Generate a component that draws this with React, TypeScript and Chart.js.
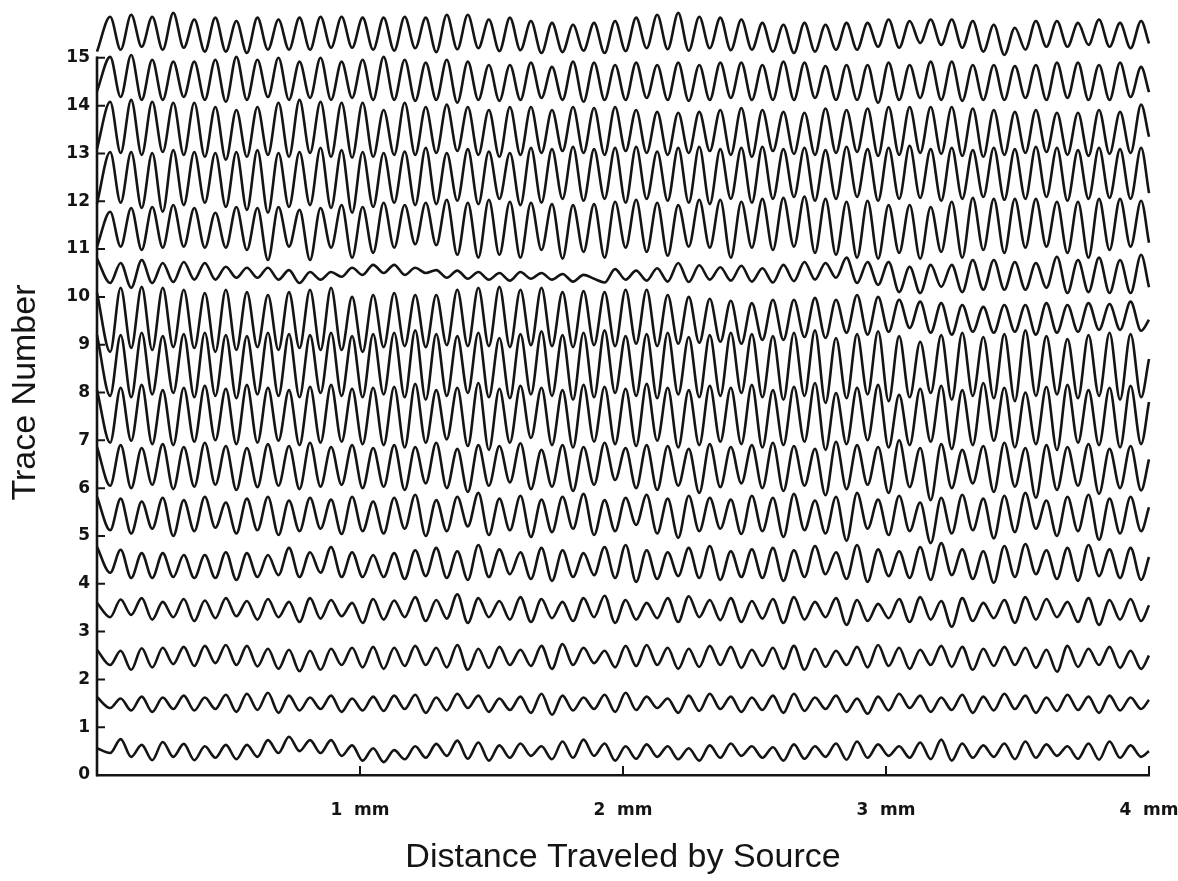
import React, { useEffect, useRef } from 'react';
import { Chart, registerables } from 'chart.js';

Chart.register(...registerables);

// Sample positions along the source travel (mm): edge, then every half fringe, then edge.
const SAMPLE_MM = [
  0,
  0.05, 0.09, 0.13, 0.17, 0.21, 0.25, 0.29, 0.33, 0.37, 0.41,
  0.45, 0.49, 0.53, 0.57, 0.61, 0.65, 0.69, 0.73, 0.77, 0.81,
  0.85, 0.89, 0.93, 0.97, 1.01, 1.05, 1.09, 1.13, 1.17, 1.21,
  1.25, 1.29, 1.33, 1.37, 1.41, 1.45, 1.49, 1.53, 1.57, 1.61,
  1.65, 1.69, 1.73, 1.77, 1.81, 1.85, 1.89, 1.93, 1.97, 2.01,
  2.05, 2.09, 2.13, 2.17, 2.21, 2.25, 2.29, 2.33, 2.37, 2.41,
  2.45, 2.49, 2.53, 2.57, 2.61, 2.65, 2.69, 2.73, 2.77, 2.81,
  2.85, 2.89, 2.93, 2.97, 3.01, 3.05, 3.09, 3.13, 3.17, 3.21,
  3.25, 3.29, 3.33, 3.37, 3.41, 3.45, 3.49, 3.53, 3.57, 3.61,
  3.65, 3.69, 3.73, 3.77, 3.81, 3.85, 3.89, 3.93, 3.97,
  4,
];

const X_TICK_VALUES = [0, 1, 2, 3, 4];
const X_TICK_LABELS = ['', '1  mm', '2  mm', '3  mm', '4  mm'];
const Y_TICK_VALUES = [0, 1, 2, 3, 4, 5, 6, 7, 8, 9, 10, 11, 12, 13, 14, 15];
const Y_TICK_LABELS = ['0', '1', '2', '3', '4', '5', '6', '7', '8', '9', '10', '11', '12', '13', '14', '15'];

// Value at the left edge and right edge of each trace (trace 0 .. 15)
const TRACE_START = [0.56, 1.63, 2.62, 3.6, 4.77, 5.82, 6.86, 8.05, 9.2, 10.08, 10.8, 11.05, 11.95, 13.1, 14.3, 15.13];
const TRACE_END = [0.5, 1.57, 2.5, 3.55, 4.56, 5.6, 6.6, 7.8, 8.7, 9.52, 10.2, 11.13, 12.17, 13.35, 14.28, 15.3];

// Extremes of each trace: HI = crests, LO = valleys.
const T15_HI = [
  15.86, 15.9, 15.86, 15.94, 15.8, 15.84, 15.77, 15.84, 15.8, 15.84,
  15.86, 15.86, 15.84, 15.84, 15.86, 15.84, 15.9, 15.9, 15.8, 15.84,
  15.77, 15.73, 15.69, 15.73, 15.77, 15.84, 15.9, 15.94, 15.86, 15.84,
  15.8, 15.73, 15.69, 15.73, 15.69, 15.73, 15.73, 15.8, 15.77, 15.8,
  15.8, 15.77, 15.69, 15.63, 15.77, 15.77, 15.73, 15.8, 15.73, 15.77,
];
const T15_LO = [
  15.17, 15.23, 15.17, 15.21, 15.13, 15.13, 15.1, 15.17, 15.17, 15.17,
  15.21, 15.21, 15.17, 15.15, 15.2, 15.12, 15.18, 15.2, 15.14, 15.16,
  15.1, 15.12, 15.15, 15.1, 15.14, 15.2, 15.18, 15.15, 15.2, 15.16,
  15.17, 15.13, 15.1, 15.13, 15.17, 15.17, 15.23, 15.21, 15.31, 15.27,
  15.21, 15.13, 15.06, 15.17, 15.23, 15.23, 15.27, 15.23, 15.2,
];
const T14_HI = [
  15.02, 15.06, 14.96, 14.92, 14.92, 14.96, 15.02, 14.96, 15.0, 14.92,
  15.0, 14.92, 14.96, 15.02, 14.96, 14.9, 14.96, 14.92, 14.85, 14.85,
  14.9, 14.81, 14.92, 14.9, 14.85, 14.9, 14.85, 14.9, 14.85, 14.9,
  14.9, 14.85, 14.92, 14.9, 14.83, 14.85, 14.85, 14.9, 14.85, 14.92,
  14.92, 14.85, 14.85, 14.83, 14.85, 14.9, 14.9, 14.85, 14.9, 14.81,
];
const T14_LO = [
  14.18, 14.12, 14.12, 14.18, 14.12, 14.08, 14.12, 14.18, 14.12, 14.16,
  14.12, 14.16, 14.12, 14.12, 14.1, 14.12, 14.06, 14.12, 14.1, 14.12,
  14.16, 14.12, 14.08, 14.12, 14.12, 14.16, 14.12, 14.1, 14.12, 14.16,
  14.12, 14.12, 14.12, 14.16, 14.12, 14.12, 14.06, 14.12, 14.16, 14.12,
  14.1, 14.12, 14.12, 14.16, 14.12, 14.16, 14.12, 14.12, 14.18,
];
const T13_HI = [
  14.08, 14.12, 14.08, 14.06, 14.06, 13.97, 13.91, 13.97, 14.06, 14.12,
  14.08, 14.06, 14.06, 13.91, 14.06, 13.97, 14.02, 13.97, 13.91, 13.97,
  13.97, 13.91, 13.97, 13.95, 13.97, 13.91, 13.87, 13.85, 13.87, 13.91,
  13.95, 13.91, 13.87, 13.85, 13.94, 13.91, 13.94, 13.97, 13.97, 13.97,
  13.97, 13.94, 13.91, 13.87, 13.91, 13.85, 13.85, 13.91, 13.87, 14.02,
];
const T13_LO = [
  13.01, 12.97, 13.03, 12.97, 12.93, 12.87, 12.93, 12.97, 12.93, 13.01,
  12.93, 12.91, 12.93, 12.97, 12.97, 13.01, 13.05, 12.97, 12.93, 12.97,
  13.01, 13.05, 13.01, 12.97, 13.05, 13.01, 12.97, 13.01, 13.05, 12.97,
  12.93, 13.05, 12.99, 12.97, 13.01, 13.03, 12.95, 12.97, 13.01, 12.99,
  12.95, 12.93, 12.97, 13.01, 13.03, 12.97, 12.95, 12.99, 13.01,
];
const T12_HI = [
  13.03, 13.03, 13.01, 13.07, 13.03, 13.01, 13.03, 13.07, 13.01, 13.03,
  13.12, 13.07, 13.03, 13.01, 13.04, 13.12, 13.01, 13.09, 13.04, 13.01,
  13.12, 13.09, 13.14, 13.09, 13.12, 13.14, 13.04, 13.12, 13.14, 13.09,
  13.12, 13.14, 13.09, 13.12, 13.07, 13.14, 13.09, 13.12, 13.16, 13.09,
  13.12, 13.07, 13.12, 13.09, 13.14, 13.12, 13.07, 13.12, 13.09, 13.12,
];
const T12_LO = [
  11.97, 11.86, 11.78, 11.92, 11.97, 11.88, 11.82, 11.76, 11.88, 11.92,
  11.86, 11.76, 11.88, 11.97, 11.92, 11.94, 12.01, 11.94, 12.05, 11.92,
  11.97, 12.05, 12.01, 12.05, 11.97, 12.05, 12.01, 11.97, 11.94, 12.05,
  11.97, 12.05, 12.09, 12.01, 12.05, 12.09, 12.01, 12.05, 12.07, 12.01,
  12.05, 12.09, 12.03, 12.05, 12.09, 12.01, 12.05, 12.07, 12.05,
];
const T11_HI = [
  11.78, 11.86, 11.88, 11.92, 11.86, 11.76, 11.88, 11.86, 11.88, 11.82,
  11.86, 11.92, 11.88, 11.97, 11.92, 11.97, 12.03, 11.97, 12.03, 11.99,
  11.97, 11.94, 11.92, 11.94, 11.99, 12.03, 11.97, 11.92, 12.03, 12.03,
  11.99, 12.05, 12.07, 12.1, 12.05, 11.99, 12.01, 11.92, 11.92, 11.88,
  11.99, 12.07, 12.05, 12.05, 12.05, 11.99, 11.99, 12.05, 12.05, 12.01,
];
const T11_LO = [
  11.05, 10.98, 11.03, 11.05, 11.03, 11.03, 10.98, 10.77, 11.05, 10.77,
  11.03, 10.82, 10.92, 11.03, 11.1, 11.08, 10.88, 10.82, 10.88, 10.82,
  10.98, 10.8, 10.94, 10.82, 11.03, 10.94, 10.86, 11.05, 11.03, 10.82,
  11.03, 10.98, 11.05, 10.92, 10.88, 10.82, 10.8, 10.92, 10.8, 10.94,
  10.82, 10.98, 10.92, 11.03, 11.05, 10.92, 10.82, 10.98, 11.05,
];
// Trace 10 slips by half a fringe in its flat middle part, so it is listed point by point.
const T10_SEQ = [
  10.29, 10.71, 10.19, 10.77, 10.29, 10.71, 10.31, 10.73, 10.36, 10.71,
  10.36, 10.63, 10.4, 10.61, 10.4, 10.61, 10.36, 10.56, 10.29, 10.52,
  10.36, 10.52, 10.42, 10.61, 10.46, 10.67, 10.5, 10.67, 10.46, 10.61,
  10.5, 10.56, 10.4, 10.55, 10.38, 10.52, 10.36, 10.5, 10.34, 10.52,
  10.38, 10.5, 10.36, 10.48, 10.32, 10.46, 10.38, 10.3, 10.58, 10.36,
  10.55, 10.34, 10.6, 10.32, 10.71, 10.31, 10.66, 10.36, 10.62, 10.34,
  10.65, 10.32, 10.6, 10.3, 10.67, 10.33, 10.73, 10.36, 10.71, 10.4,
  10.82, 10.29, 10.73, 10.25, 10.73, 10.1, 10.63, 10.08, 10.67, 10.21,
  10.67, 10.1, 10.77, 10.15, 10.77, 10.15, 10.73, 10.15, 10.71, 10.19,
  10.84, 10.08, 10.77, 10.1, 10.82, 10.08, 10.77, 10.08, 10.88,
];
const T9_LO = [
  8.85, 8.93, 8.89, 8.95, 8.93, 8.85, 8.89, 8.95, 8.89, 8.93,
  8.89, 8.89, 8.85, 8.95, 8.97, 8.95, 8.99, 8.97, 8.97, 8.95,
  8.99, 8.97, 8.95, 8.99, 8.97, 9.02, 8.97, 9.02, 9.04, 9.06,
  9.02, 9.1, 9.1, 9.16, 9.14, 9.25, 9.21, 9.27, 9.35, 9.25,
  9.21, 9.27, 9.25, 9.27, 9.21, 9.25, 9.27, 9.31, 9.31, 9.29,
];
const T9_HI = [
  10.19, 10.21, 10.19, 10.15, 10.08, 10.15, 10.1, 10.04, 10.1, 10.15,
  10.19, 10.0, 10.04, 10.08, 10.04, 10.04, 10.15, 10.19, 10.21, 10.15,
  10.19, 10.1, 10.12, 10.1, 10.15, 10.15, 10.04, 10.0, 9.96, 9.92,
  9.87, 9.94, 9.94, 9.98, 9.94, 10.04, 10.0, 9.94, 9.9, 9.87,
  9.83, 9.79, 9.83, 9.83, 9.87, 9.83, 9.87, 9.85, 9.9,
];
const T8_LO = [
  7.93, 7.9, 7.96, 7.99, 7.9, 7.93, 7.88, 7.96, 7.93, 7.9,
  7.99, 7.93, 7.9, 7.96, 7.9, 7.85, 7.93, 7.99, 7.9, 7.88,
  7.96, 7.93, 7.85, 7.9, 7.99, 7.93, 7.88, 7.96, 7.9, 7.93,
  7.99, 7.9, 7.85, 7.93, 7.78, 7.88, 7.96, 7.82, 7.9, 7.99,
  7.85, 7.93, 7.88, 7.82, 7.93, 7.96, 7.88, 7.93, 7.85, 7.9,
];
const T8_HI = [
  9.2, 9.25, 9.18, 9.22, 9.25, 9.2, 9.18, 9.25, 9.22, 9.2,
  9.25, 9.18, 9.22, 9.25, 9.3, 9.22, 9.18, 9.25, 9.14, 9.22,
  9.28, 9.2, 9.25, 9.3, 9.18, 9.22, 9.25, 9.16, 9.2, 9.25,
  9.22, 9.18, 9.25, 9.3, 9.14, 9.22, 9.28, 9.18, 9.06, 9.2,
  9.25, 9.16, 9.22, 9.3, 9.18, 9.12, 9.2, 9.25, 9.22,
];
const T7_LO = [
  6.95, 6.99, 6.92, 6.9, 6.97, 7.0, 6.92, 6.95, 6.99, 6.9,
  6.95, 6.97, 6.92, 6.9, 6.85, 6.95, 7.02, 6.88, 6.8, 6.95,
  7.05, 6.9, 6.85, 6.97, 6.92, 6.88, 6.99, 6.85, 6.9, 6.97,
  6.92, 6.85, 6.9, 6.97, 6.8, 6.92, 7.0, 6.85, 6.9, 6.97,
  6.82, 6.9, 6.99, 6.85, 6.92, 6.8, 6.95, 6.9, 6.85, 6.92,
];
const T7_HI = [
  8.1, 8.16, 8.05, 8.1, 8.14, 8.08, 8.16, 8.1, 8.05, 8.12,
  8.16, 8.08, 8.1, 8.12, 8.18, 8.05, 8.1, 8.2, 8.08, 8.14,
  8.1, 8.05, 8.16, 8.12, 8.08, 8.18, 8.1, 8.05, 8.14, 8.1,
  8.16, 8.05, 8.12, 8.2, 7.99, 8.1, 8.16, 7.95, 8.08, 8.14,
  8.05, 8.2, 8.1, 8.0, 8.12, 8.16, 8.05, 8.1, 8.14,
];
const T6_LO = [
  6.05, 6.0, 6.07, 5.98, 6.03, 6.07, 5.96, 6.02, 6.05, 5.98,
  6.03, 6.07, 6.0, 6.03, 5.96, 6.1, 6.0, 5.92, 6.05, 6.12,
  5.98, 6.03, 5.94, 6.07, 6.17, 6.0, 5.96, 6.05, 5.9, 6.02,
  6.1, 6.0, 5.94, 6.05, 5.85, 5.98, 6.07, 5.9, 6.02, 5.75,
  6.0, 6.1, 5.92, 6.03, 5.8, 5.96, 6.05, 5.88, 6.0, 5.95,
];
const T6_HI = [
  6.9, 6.84, 6.92, 6.86, 6.95, 6.88, 6.84, 6.92, 6.88, 6.95,
  6.86, 6.9, 6.84, 6.9, 6.86, 6.95, 6.82, 6.9, 6.88, 6.94,
  6.8, 6.9, 6.86, 6.95, 6.84, 6.9, 6.88, 6.82, 6.92, 6.86,
  6.9, 6.95, 6.88, 6.82, 6.97, 6.9, 6.86, 7.0, 6.84, 6.92,
  6.8, 6.88, 6.95, 6.84, 6.9, 6.86, 6.92, 6.82, 6.88,
];
const T5_LO = [
  5.12, 5.05, 5.15, 5.0, 5.1, 5.17, 5.05, 5.12, 5.02, 5.1,
  5.15, 5.04, 5.1, 5.05, 5.15, 5.0, 5.1, 5.2, 5.02, 5.12,
  4.98, 5.08, 5.15, 5.02, 5.1, 5.23, 5.05, 4.96, 5.1, 5.15,
  5.04, 5.1, 4.98, 5.12, 5.05, 4.9, 5.15, 5.02, 5.1, 4.85,
  5.05, 5.12, 4.95, 5.08, 5.15, 5.0, 5.1, 4.92, 5.05, 5.1,
];
const T5_HI = [
  5.78, 5.72, 5.8, 5.75, 5.82, 5.7, 5.78, 5.82, 5.74, 5.8,
  5.76, 5.82, 5.72, 5.8, 5.86, 5.75, 5.82, 5.9, 5.78, 5.84,
  5.76, 5.82, 5.88, 5.75, 5.8, 5.86, 5.78, 5.84, 5.8, 5.76,
  5.84, 5.8, 5.88, 5.74, 5.82, 5.9, 5.76, 5.84, 5.7, 5.8,
  5.86, 5.78, 5.84, 5.9, 5.74, 5.82, 5.86, 5.78, 5.82,
];
const T4_LO = [
  4.23, 4.12, 4.12, 4.14, 4.12, 4.12, 4.08, 4.14, 4.18, 4.14,
  4.23, 4.14, 4.14, 4.14, 4.1, 4.16, 4.12, 4.08, 4.14, 4.2,
  4.1, 4.06, 4.14, 4.18, 4.12, 4.04, 4.1, 4.16, 4.12, 4.08,
  4.14, 4.12, 4.06, 4.14, 4.2, 4.1, 4.04, 4.16, 4.12, 4.08,
  4.18, 4.1, 4.02, 4.14, 4.2, 4.1, 4.06, 4.16, 4.12, 4.08,
];
const T4_HI = [
  4.71, 4.64, 4.64, 4.6, 4.6, 4.66, 4.64, 4.6, 4.75, 4.66,
  4.77, 4.66, 4.6, 4.64, 4.7, 4.75, 4.68, 4.81, 4.72, 4.66,
  4.75, 4.7, 4.64, 4.77, 4.81, 4.7, 4.66, 4.75, 4.79, 4.68,
  4.72, 4.75, 4.7, 4.79, 4.66, 4.81, 4.72, 4.68, 4.77, 4.85,
  4.72, 4.68, 4.79, 4.83, 4.7, 4.75, 4.81, 4.72, 4.75,
];
const T3_LO = [
  3.3, 3.35, 3.25, 3.3, 3.22, 3.28, 3.32, 3.25, 3.3, 3.2,
  3.27, 3.32, 3.18, 3.25, 3.3, 3.22, 3.27, 3.18, 3.3, 3.25,
  3.2, 3.28, 3.22, 3.3, 3.18, 3.25, 3.28, 3.2, 3.3, 3.24,
  3.2, 3.27, 3.18, 3.25, 3.3, 3.14, 3.22, 3.28, 3.2, 3.25,
  3.1, 3.22, 3.28, 3.18, 3.25, 3.3, 3.2, 3.14, 3.25, 3.22,
];
const T3_HI = [
  3.67, 3.7, 3.62, 3.68, 3.65, 3.7, 3.64, 3.68, 3.62, 3.7,
  3.66, 3.6, 3.68, 3.65, 3.72, 3.66, 3.78, 3.7, 3.64, 3.72,
  3.68, 3.62, 3.7, 3.75, 3.66, 3.6, 3.7, 3.74, 3.66, 3.7,
  3.64, 3.68, 3.72, 3.62, 3.7, 3.66, 3.58, 3.68, 3.72, 3.64,
  3.7, 3.6, 3.66, 3.72, 3.68, 3.62, 3.7, 3.66, 3.68,
];
const T2_LO = [
  2.3, 2.2, 2.25, 2.32, 2.28, 2.34, 2.3, 2.27, 2.22, 2.17,
  2.2, 2.3, 2.25, 2.22, 2.28, 2.3, 2.25, 2.2, 2.24, 2.3,
  2.28, 2.22, 2.3, 2.34, 2.25, 2.28, 2.3, 2.22, 2.26, 2.3,
  2.24, 2.28, 2.22, 2.2, 2.26, 2.3, 2.25, 2.28, 2.22, 2.3,
  2.26, 2.2, 2.28, 2.3, 2.24, 2.16, 2.26, 2.3, 2.24, 2.22,
];
const T2_HI = [
  2.6, 2.65, 2.66, 2.68, 2.7, 2.72, 2.7, 2.64, 2.62, 2.6,
  2.64, 2.66, 2.68, 2.66, 2.7, 2.66, 2.72, 2.64, 2.68, 2.62,
  2.7, 2.74, 2.66, 2.6, 2.7, 2.72, 2.66, 2.64, 2.7, 2.68,
  2.62, 2.66, 2.7, 2.64, 2.6, 2.68, 2.72, 2.66, 2.62, 2.7,
  2.68, 2.64, 2.68, 2.66, 2.62, 2.7, 2.64, 2.68, 2.6,
];
const T1_LO = [
  1.4, 1.35, 1.32, 1.38, 1.35, 1.38, 1.32, 1.36, 1.3, 1.35,
  1.38, 1.32, 1.35, 1.34, 1.38, 1.3, 1.35, 1.4, 1.32, 1.36,
  1.3, 1.26, 1.35, 1.38, 1.32, 1.36, 1.4, 1.3, 1.34, 1.38,
  1.32, 1.36, 1.3, 1.34, 1.38, 1.32, 1.28, 1.35, 1.4, 1.32,
  1.36, 1.3, 1.35, 1.38, 1.3, 1.34, 1.36, 1.3, 1.35, 1.38,
];
const T1_HI = [
  1.6, 1.64, 1.62, 1.66, 1.62, 1.68, 1.7, 1.72, 1.66, 1.62,
  1.66, 1.6, 1.64, 1.66, 1.68, 1.62, 1.7, 1.66, 1.6, 1.64,
  1.7, 1.66, 1.62, 1.68, 1.72, 1.64, 1.6, 1.66, 1.7, 1.64,
  1.62, 1.66, 1.7, 1.62, 1.66, 1.6, 1.64, 1.7, 1.66, 1.62,
  1.68, 1.64, 1.7, 1.66, 1.62, 1.68, 1.64, 1.66, 1.62,
];
const T0_LO = [
  0.46, 0.38, 0.31, 0.38, 0.31, 0.36, 0.33, 0.38, 0.46, 0.5,
  0.46, 0.4, 0.3, 0.27, 0.33, 0.36, 0.4, 0.34, 0.3, 0.36,
  0.4, 0.33, 0.36, 0.4, 0.3, 0.34, 0.38, 0.33, 0.3, 0.36,
  0.4, 0.36, 0.3, 0.34, 0.38, 0.32, 0.36, 0.4, 0.36, 0.33,
  0.3, 0.36, 0.38, 0.33, 0.36, 0.4, 0.34, 0.32, 0.36, 0.38,
];
const T0_HI = [
  0.75, 0.63, 0.69, 0.65, 0.6, 0.63, 0.63, 0.73, 0.8, 0.73,
  0.73, 0.62, 0.56, 0.52, 0.6, 0.65, 0.72, 0.68, 0.62, 0.66,
  0.6, 0.7, 0.74, 0.66, 0.6, 0.64, 0.6, 0.56, 0.62, 0.66,
  0.6, 0.58, 0.64, 0.6, 0.66, 0.7, 0.64, 0.6, 0.68, 0.74,
  0.66, 0.62, 0.66, 0.7, 0.64, 0.6, 0.66, 0.7, 0.62,
];

function interleave(first: number[], second: number[]): number[] {
  const out: number[] = [];
  const n = Math.max(first.length, second.length);
  for (let i = 0; i < n; i++) {
    if (i < first.length) out.push(first[i]);
    if (i < second.length) out.push(second[i]);
  }
  return out;
}

// Inner sequences (between the two edge values), trace 0 .. 15
const TRACE_INNER: number[][] = [
  interleave(T0_LO, T0_HI),
  interleave(T1_LO, T1_HI),
  interleave(T2_LO, T2_HI),
  interleave(T3_LO, T3_HI),
  interleave(T4_LO, T4_HI),
  interleave(T5_LO, T5_HI),
  interleave(T6_LO, T6_HI),
  interleave(T7_LO, T7_HI),
  interleave(T8_LO, T8_HI),
  interleave(T9_LO, T9_HI),
  T10_SEQ,
  interleave(T11_HI, T11_LO),
  interleave(T12_HI, T12_LO),
  interleave(T13_HI, T13_LO),
  interleave(T14_HI, T14_LO),
  interleave(T15_HI, T15_LO),
];

const INK = '#141414';

const innerTicksPlugin = {
  id: 'innerTicks',
  afterDraw(chart: any) {
    const { ctx, chartArea, scales } = chart;
    const x = scales.x;
    const y = scales.y;
    ctx.save();
    ctx.strokeStyle = INK;
    ctx.lineCap = 'square';
    ctx.lineWidth = 2.6;
    ctx.beginPath();
    ctx.moveTo(chartArea.left, y.getPixelForValue(Y_TICK_VALUES[0]));
    ctx.lineTo(chartArea.left, y.getPixelForValue(Y_TICK_VALUES[Y_TICK_VALUES.length - 1]));
    ctx.stroke();
    ctx.lineWidth = 2;
    ctx.beginPath();
    Y_TICK_VALUES.forEach((v) => {
      if (v === 0) return;
      const py = y.getPixelForValue(v);
      ctx.moveTo(chartArea.left, py);
      ctx.lineTo(chartArea.left + 7, py);
    });
    X_TICK_VALUES.forEach((v) => {
      if (v === 0) return;
      const px = x.getPixelForValue(v);
      ctx.moveTo(px, chartArea.bottom);
      ctx.lineTo(px, chartArea.bottom - 8);
    });
    ctx.stroke();
    ctx.restore();
  },
};

export default function App() {
  const canvasRef = useRef<HTMLCanvasElement | null>(null);

  useEffect(() => {
    document.body.style.margin = '0';
    document.body.style.background = '#ffffff';
    const canvas = canvasRef.current;
    if (!canvas) return;

    const datasets = TRACE_INNER.map((inner, i) => {
      const seq = [TRACE_START[i], ...inner, TRACE_END[i]];
      return {
        label: `Trace ${i}`,
        data: SAMPLE_MM.map((mm, k) => ({ x: mm, y: seq[k] })),
        borderColor: INK,
        borderWidth: 2.6,
        pointRadius: 0,
        fill: false,
        cubicInterpolationMode: 'monotone' as const,
        clip: false as const,
      };
    });

    const tickFont = { family: 'DejaVu Sans', size: 17, weight: 'bold' as const };
    const titleFont = { family: 'Liberation Sans', size: 34, weight: 'normal' as const };

    const chart = new Chart(canvas, {
      type: 'line',
      data: { datasets },
      plugins: [innerTicksPlugin],
      options: {
        animation: false,
        responsive: false,
        devicePixelRatio: 1,
        layout: { padding: { top: 10, right: 29, left: 0, bottom: 0 } },
        plugins: {
          legend: { display: false },
          tooltip: { enabled: false },
        },
        scales: {
          x: {
            type: 'linear',
            min: 0,
            max: 4,
            afterFit: (s: any) => {
              s.height = 106;
              s.paddingLeft = 0;
              s.paddingRight = 0;
            },
            afterBuildTicks: (s: any) => {
              s.ticks = X_TICK_VALUES.map((v) => ({ value: v }));
            },
            ticks: {
              autoSkip: false,
              maxRotation: 0,
              padding: 25,
              color: INK,
              font: tickFont,
              callback: (v: any) => {
                const i = X_TICK_VALUES.indexOf(Number(v));
                return i >= 0 ? X_TICK_LABELS[i] : '';
              },
            },
            grid: { display: false, drawTicks: false },
            border: { display: true, color: INK, width: 2.6 },
            title: {
              display: true,
              text: 'Distance Traveled by Source',
              color: INK,
              font: titleFont,
              padding: { top: 0, bottom: 3 },
            },
          },
          y: {
            type: 'linear',
            min: 0,
            max: 16,
            afterFit: (s: any) => {
              s.width = 97;
              s.paddingTop = 0;
              s.paddingBottom = 0;
            },
            afterBuildTicks: (s: any) => {
              s.ticks = Y_TICK_VALUES.map((v) => ({ value: v }));
            },
            ticks: {
              autoSkip: false,
              padding: 7,
              color: INK,
              font: tickFont,
              callback: (v: any) => {
                const i = Y_TICK_VALUES.indexOf(Number(v));
                return i >= 0 ? Y_TICK_LABELS[i] : '';
              },
            },
            grid: { display: false, drawTicks: false },
            border: { display: false },
            title: {
              display: true,
              text: 'Trace Number',
              color: INK,
              font: titleFont,
              padding: { top: 5, bottom: 0 },
            },
          },
        },
      },
    });

    return () => {
      chart.destroy();
    };
  }, []);

  return (
    <div style={{ width: 1178, height: 881, background: '#ffffff' }}>
      <canvas ref={canvasRef} width={1178} height={881} style={{ display: 'block' }} />
    </div>
  );
}
